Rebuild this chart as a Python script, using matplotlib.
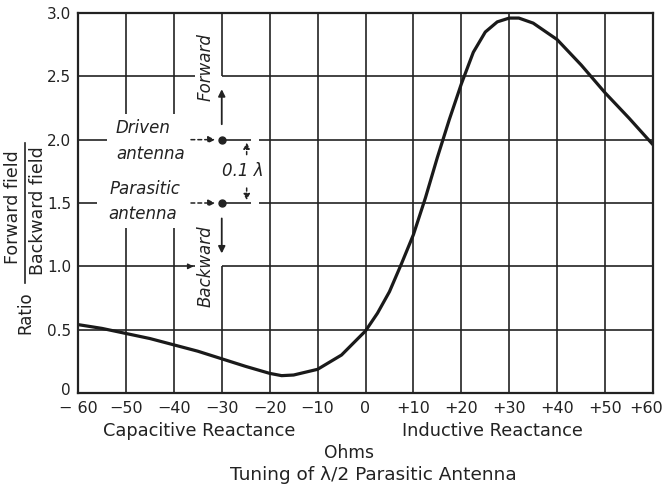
import numpy as np
import matplotlib.pyplot as plt
import matplotlib.transforms as mtransforms
from matplotlib.lines import Line2D

# -----------------------------
# Data
# -----------------------------
ohms = [-60, -55, -50, -45, -40, -35, -30, -25, -20, -17.5, -15, -10, -5, 0,
        2.5, 5, 7.5, 10, 12.5, 15, 17.5, 20, 22.5, 25, 27.5, 30, 32, 35,
        40, 45, 50, 55, 60]
ratio = [0.54, 0.51, 0.47, 0.43, 0.38, 0.33, 0.27, 0.21, 0.155, 0.137, 0.142, 0.187,
         0.30, 0.49, 0.63, 0.80, 1.02, 1.25, 1.54, 1.86, 2.16, 2.44, 2.69, 2.85,
         2.93, 2.96, 2.96, 2.92, 2.79, 2.59, 2.37, 2.17, 1.96]

xticks = [-60, -50, -40, -30, -20, -10, 0, 10, 20, 30, 40, 50, 60]
xtick_labels = ['− 60', '−50', '−40', '−30', '−20', '−10', '0',
                '+10', '+20', '+30', '+40', '+50', '+60']
yticks = [0, 0.5, 1.0, 1.5, 2.0, 2.5, 3.0]
ytick_labels = ['0', '0.5', '1.0', '1.5', '2.0', '2.5', '3.0']

ink = '#222222'
plt.rcParams['font.family'] = 'DejaVu Sans'
fig = plt.figure(figsize=(6.63, 4.87), dpi=100)
ax = fig.add_axes([78 / 663, 94 / 487, 575 / 663, 380 / 487])
ax.set_xlim(-60, 60)
ax.set_ylim(0, 3.0)

k = dict(color=ink, lw=1.2, solid_capstyle='butt')

# -----------------------------
# Grid (broken around the annotations)
# -----------------------------
for x in [-20, -10, 0, 10, 20, 30, 40, 50]:
    ax.plot([x, x], [0, 3], **k)
for x in [-50, -40]:
    ax.plot([x, x], [0, 1.3], **k)
    ax.plot([x, x], [2.2, 3], **k)
ax.plot([-30, -30], [0, 1.0], **k)
ax.plot([-30, -30], [2.5, 3.0], **k)

ax.plot([-60, 60], [0.5, 0.5], **k)
ax.plot([-60, -35.5], [2.5, 2.5], **k)
ax.plot([-30, 60], [2.5, 2.5], **k)
ax.plot([-60, -35.5], [1.0, 1.0], **k)
ax.plot([-30, 60], [1.0, 1.0], **k)
ax.annotate('', xy=(-35.3, 1.0), xytext=(-37, 1.0),
            arrowprops=dict(arrowstyle='-|>', color=ink, lw=1.0,
                            mutation_scale=8))
for y, start in [(2.0, -54), (1.5, -56)]:
    ax.plot([-60, start], [y, y], **k)
    ax.plot([-30, -24], [y, y], **k)
    ax.plot([-22.3, 60], [y, y], **k)
    ax.annotate('', xy=(-30.8, y), xytext=(-37, y),
                arrowprops=dict(arrowstyle='-|>', color=ink, lw=1.1,
                                ls=(0, (2.5, 2)), mutation_scale=10))
    ax.plot([-30], [y], 'o', color=ink, ms=5)

# forward / backward arrows
ax.annotate('', xy=(-30, 2.42), xytext=(-30, 2.1),
            arrowprops=dict(arrowstyle='-|>', color=ink, lw=1.3,
                            mutation_scale=10))
ax.annotate('', xy=(-30, 1.08), xytext=(-30, 1.4),
            arrowprops=dict(arrowstyle='-|>', color=ink, lw=1.3,
                            mutation_scale=10))
# 0.1 lambda dimension
ax.annotate('', xy=(-24.8, 2.0), xytext=(-24.8, 1.86),
            arrowprops=dict(arrowstyle='-|>', color=ink, lw=1.1,
                            ls=(0, (2, 1.5)), mutation_scale=9))
ax.annotate('', xy=(-24.8, 1.5), xytext=(-24.8, 1.64),
            arrowprops=dict(arrowstyle='-|>', color=ink, lw=1.1,
                            ls=(0, (2, 1.5)), mutation_scale=9))

tk = dict(fontsize=12, style='italic', color=ink, ha='center', va='center')
ax.text(-46.5, 2.09, 'Driven', **tk)
ax.text(-44.8, 1.89, 'antenna', **tk)
ax.text(-46, 1.61, 'Parasitic', **tk)
ax.text(-46.5, 1.41, 'antenna', **tk)
ax.text(-25.6, 1.75, '0.1 λ', **tk)
ax.text(-33.4, 2.57, 'Forward', rotation=90, **tk)
ax.text(-33.4, 1.0, 'Backward', rotation=90, **tk)

# -----------------------------
# Curve
# -----------------------------
ax.plot(ohms, ratio, color='#1a1a1a', lw=2.3, solid_joinstyle='round')

# -----------------------------
# Axes formatting
# -----------------------------
for s in ax.spines.values():
    s.set_color(ink)
    s.set_linewidth(1.6)
ax.set_xticks(xticks)
ax.set_xticklabels(xtick_labels, fontsize=11.5)
ax.set_yticks(yticks)
ax.set_yticklabels(ytick_labels, fontsize=11)
ax.tick_params(length=0, colors=ink)
ax.tick_params(axis='x', pad=6)
ax.tick_params(axis='y', pad=5)

# nudge edge labels like the original lettering
last = ax.get_xticklabels()[-1]
last.set_transform(last.get_transform() +
                   mtransforms.ScaledTranslation(-7 / 100, 0, fig.dpi_scale_trans))
first_y = ax.get_yticklabels()[0]
first_y.set_transform(first_y.get_transform() +
                      mtransforms.ScaledTranslation(0, 4 / 100, fig.dpi_scale_trans))

# y label with fraction
fig.text(25 / 663, 1 - 313 / 487, 'Ratio', rotation=90, fontsize=12,
         ha='center', va='center', color=ink)
fig.text(13 / 663, 1 - 207 / 487, 'Forward field', rotation=90, fontsize=12.5,
         ha='center', va='center', color=ink)
fig.text(38 / 663, 1 - 211 / 487, 'Backward field', rotation=90, fontsize=12.5,
         ha='center', va='center', color=ink)
fig.add_artist(Line2D([25 / 663, 25 / 663], [1 - 143 / 487, 1 - 283 / 487],
                      color=ink, lw=1.2))

# x labels
fig.text(199 / 663, 1 - 431 / 487, 'Capacitive Reactance', fontsize=12.8,
         ha='center', va='center', color=ink)
fig.text(492 / 663, 1 - 431 / 487, 'Inductive Reactance', fontsize=12.8,
         ha='center', va='center', color=ink)
fig.text(349 / 663, 1 - 453 / 487, 'Ohms', fontsize=12.3,
         ha='center', va='center', color=ink)
fig.text(373 / 663, 1 - 475 / 487, 'Tuning of λ/2 Parasitic Antenna', fontsize=13.3,
         ha='center', va='center', color=ink)

plt.savefig('out.png', dpi=100)
